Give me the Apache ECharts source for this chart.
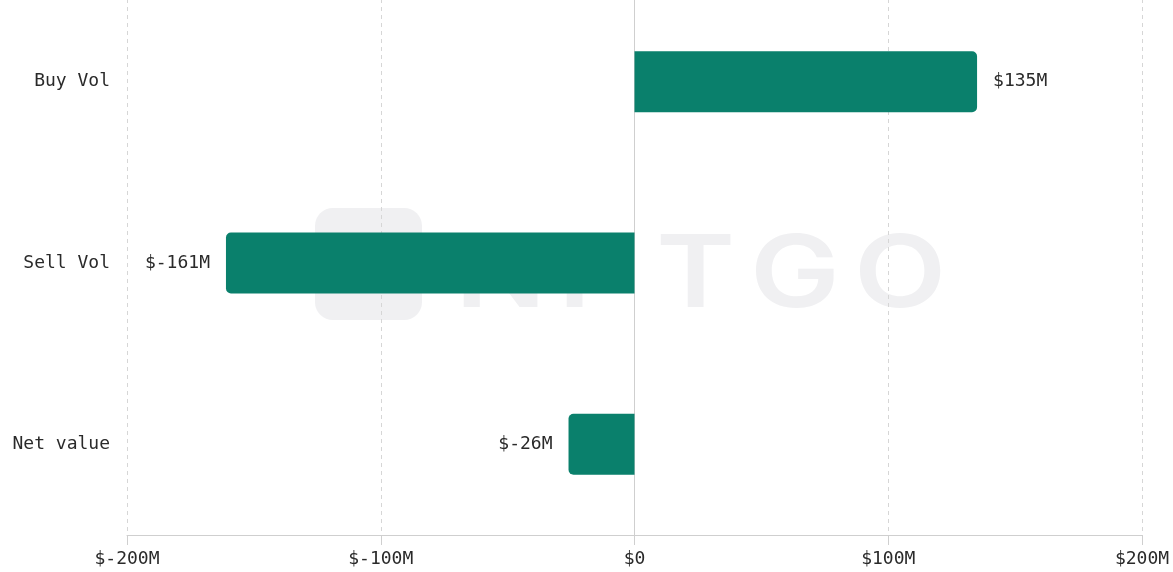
<!DOCTYPE html>
<html>
<head>
<meta charset="utf-8">
<script src="https://cdn.jsdelivr.net/npm/echarts@6/dist/echarts.min.js"></script>
<style>
html,body{margin:0;padding:0;background:#fff;overflow:hidden;}
#wrap{width:1173px;height:572px;overflow:hidden;position:relative;}
#chart{width:1173px;height:583px;position:absolute;left:0;top:-9px;}
</style>
</head>
<body>
<div id="wrap"><div id="chart"></div></div>
<script>
const categories = ['Buy Vol', 'Sell Vol', 'Net value'];
const values = [135, -161, -26];
const xTicks = [-200, -100, 0, 100, 200];

const FONT = 'DejaVu Sans Mono';
const fmt = v => v === 0 ? '$0' : '$' + v + 'M';

const chart = echarts.init(document.getElementById('chart'), null, {renderer: 'canvas'});

const wmColor = '#f0f0f2';
const letters = ['N', 'F', 'T', 'G', 'O'];
const letterX = [455, 558, 656, 750, 854];
const watermark = [
  {type: 'rect', shape: {x: 315, y: 217, width: 107, height: 112, r: 18}, style: {fill: wmColor}, z: -10}
].concat(letters.map((l, i) => ({
  type: 'text', x: letterX[i], y: 236, scaleX: 1.2,
  style: {text: l, fill: wmColor, font: '600 100px Inter', textVerticalAlign: 'top'},
  z: -10
})));

chart.setOption({
  animation: false,
  backgroundColor: '#fff',
  graphic: {elements: watermark},
  grid: {left: 127, right: 31, top: 0, bottom: 39, containLabel: false},
  xAxis: {
    type: 'value',
    min: xTicks[0],
    max: xTicks[xTicks.length - 1],
    interval: 100,
    axisLine: {show: true, lineStyle: {color: '#cfcfcf', width: 1}},
    axisTick: {show: true, length: 10, lineStyle: {color: '#cfcfcf'}},
    axisLabel: {formatter: fmt, fontFamily: FONT, fontSize: 18, color: '#2a2a2a', margin: 15},
    splitLine: {show: true, lineStyle: {color: '#d6d6d6', type: [4, 4], width: 1}}
  },
  yAxis: {
    type: 'category',
    inverse: true,
    data: categories,
    axisLine: {show: true, onZero: true, lineStyle: {color: '#cfcfcf', width: 1}},
    axisTick: {show: false},
    axisLabel: {fontFamily: FONT, fontSize: 18, color: '#2a2a2a', margin: 17},
    splitLine: {show: false}
  },
  series: [{
    type: 'bar',
    barWidth: 61,
    z: 2,
    data: values.map(v => ({
      value: v,
      itemStyle: {borderRadius: v >= 0 ? [0, 5, 5, 0] : [5, 0, 0, 5]}
    })),
    itemStyle: {color: '#0a806c'},
    label: {
      show: true,
      position: 'outside',
      distance: 16,
      formatter: p => fmt(p.value),
      fontFamily: FONT,
      fontSize: 18,
      color: '#2a2a2a'
    }
  }]
});
</script>
</body>
</html>
